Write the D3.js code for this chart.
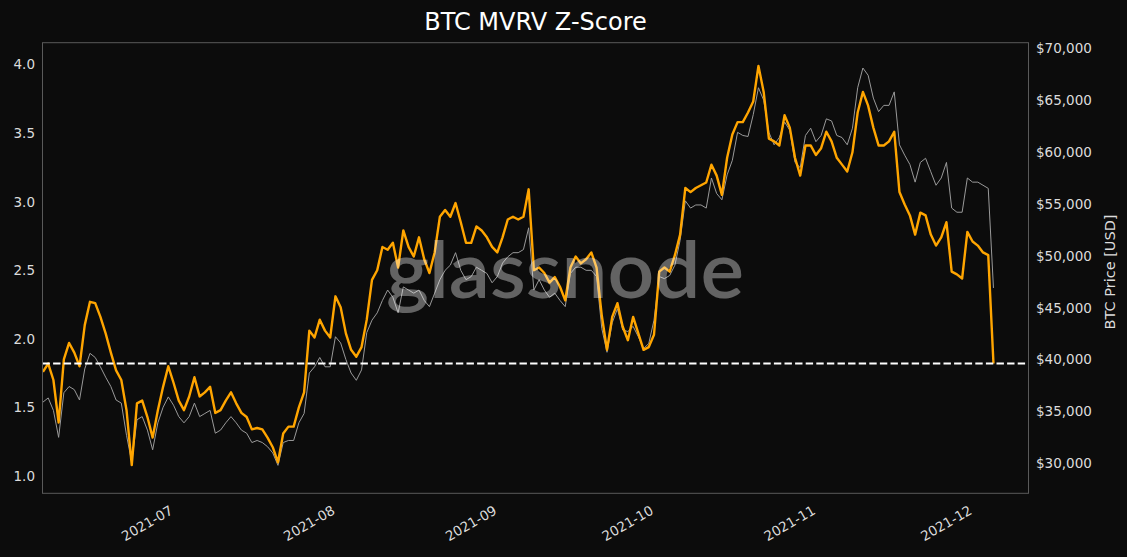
<!DOCTYPE html>
<html>
<head>
<meta charset="utf-8">
<script src="https://cdn.jsdelivr.net/npm/d3@7"></script>
<style>
  html, body { margin: 0; padding: 0; background: #0c0c0c; }
  svg { display: block; }
  text { font-family: "DejaVu Sans", sans-serif; }
</style>
</head>
<body>
<svg id="chart" width="1127" height="557"></svg>
<script>
// ---- data (daily samples, starting 2021-06-06 UTC) ----
const startDate = "2021-06-06T00:00:00Z";
const zscore = [
  1.76,1.82,1.70,1.39,1.85,1.97,1.90,1.80,2.10,2.27,
  2.26,2.16,2.04,1.90,1.77,1.70,1.48,1.08,1.53,1.55,
  1.43,1.28,1.48,1.65,1.80,1.68,1.55,1.48,1.58,1.72,
  1.58,1.61,1.65,1.46,1.48,1.55,1.61,1.53,1.46,1.43,
  1.34,1.35,1.34,1.28,1.21,1.10,1.31,1.36,1.36,1.50,
  1.61,2.06,2.01,2.14,2.06,2.01,2.31,2.23,2.04,1.92,
  1.87,1.94,2.14,2.43,2.50,2.67,2.65,2.70,2.52,2.79,
  2.67,2.60,2.74,2.58,2.48,2.63,2.89,2.94,2.89,2.99,
  2.85,2.70,2.70,2.82,2.79,2.74,2.67,2.63,2.74,2.87,
  2.89,2.87,2.89,3.09,2.50,2.52,2.48,2.41,2.45,2.38,
  2.28,2.52,2.60,2.55,2.58,2.63,2.52,2.17,1.92,2.16,
  2.26,2.09,1.99,2.16,2.04,1.92,1.94,2.03,2.49,2.52,
  2.49,2.61,2.76,3.10,3.07,3.10,3.12,3.14,3.27,3.19,
  3.05,3.32,3.49,3.58,3.58,3.65,3.73,3.99,3.80,3.46,
  3.44,3.41,3.63,3.54,3.32,3.19,3.41,3.41,3.34,3.39,
  3.51,3.44,3.32,3.27,3.22,3.36,3.65,3.80,3.70,3.54,
  3.41,3.41,3.44,3.51,3.07,2.98,2.90,2.76,2.92,2.90,
  2.76,2.68,2.74,2.85,2.49,2.47,2.44,2.78,2.71,2.68,
  2.63,2.61,1.82
];
const price = [
  35900,36300,35100,32500,36800,37400,37100,36100,39100,40600,
  40200,39300,38300,37400,36100,35800,32700,30100,34200,34500,
  33200,31300,33900,35400,36400,35600,34500,33900,34500,35800,
  34500,34800,35100,32900,33200,33900,34500,33900,33200,32900,
  32000,32200,32000,31600,31000,29800,32000,32200,32200,33900,
  34800,38700,39300,40200,39300,39300,42200,41600,40000,38700,
  38000,39000,42600,43800,44500,45700,46700,46000,44500,47000,
  46700,46400,46700,45700,45100,46400,47700,48600,49100,50300,
  48600,47700,48000,48900,48600,48300,47400,48000,49300,49900,
  50300,50300,50600,52700,46700,47700,46700,46000,46400,45700,
  45100,48300,48900,48900,48600,48600,48000,43000,40700,43550,
  44900,42850,42700,43200,42200,41050,41550,43800,48000,47800,
  48100,49100,51500,55300,54600,54900,54900,54600,57500,56000,
  55400,57800,59200,61900,61600,61500,63600,66200,65000,61900,
  60700,61400,62900,62100,59000,58500,61600,62300,61000,61600,
  63200,63000,61600,61400,60700,62300,66200,68100,67400,65200,
  63900,64500,64500,65800,60700,59700,58800,57100,59000,59400,
  58100,56800,57500,59000,54600,54200,54200,57500,57100,57100,
  56800,56500,46900
];
const zTicks = [1.0, 1.5, 2.0, 2.5, 3.0, 3.5, 4.0];
const priceTicks = [30000, 35000, 40000, 45000, 50000, 55000, 60000, 65000, 70000];
const monthTicks = ["2021-07-01", "2021-08-01", "2021-09-01", "2021-10-01", "2021-11-01", "2021-12-01"];
const titleText = "BTC MVRV Z-Score";
const rightLabel = "BTC Price [USD]";
const watermark = "glassnode";

// ---- layout ----
const L = 42.5, R = 1028.5, T = 42.7, B = 493.3;
const svg = d3.select("#chart");
svg.append("rect").attr("width", 1127).attr("height", 557).attr("fill", "#0c0c0c");

const t0 = new Date(startDate).getTime();
const dates = zscore.map((_, i) => new Date(t0 + i * 86400000));

const x = d3.scaleUtc()
  .domain([new Date("2021-06-05T21:50:00Z"), new Date("2021-12-11T17:00:00Z")])
  .range([L, R]);
const yZ = d3.scaleLinear().domain([0.874, 4.159]).range([B, T]);
const yP = d3.scaleLinear().domain([27108, 70540]).range([B, T]);

svg.append("defs").append("clipPath").attr("id", "clip")
  .append("rect").attr("x", L).attr("y", T).attr("width", R - L).attr("height", B - T);

const plot = svg.append("g").attr("clip-path", "url(#clip)");

// price line (behind)
plot.append("path")
  .datum(price.map((v, i) => [dates[i], v]))
  .attr("fill", "none")
  .attr("stroke", "#9a9a9a")
  .attr("stroke-width", 1)
  .attr("stroke-linejoin", "round")
  .attr("d", d3.line().x(d => x(d[0])).y(d => yP(d[1])));

// z-score line
plot.append("path")
  .datum(zscore.map((v, i) => [dates[i], v]))
  .attr("fill", "none")
  .attr("stroke", "#ffa500")
  .attr("stroke-width", 2.4)
  .attr("stroke-linejoin", "round")
  .attr("d", d3.line().x(d => x(d[0])).y(d => yZ(d[1])));

// dashed line at latest z value
const lastZ = zscore[zscore.length - 1];
plot.append("line")
  .attr("x1", L).attr("x2", R)
  .attr("y1", yZ(lastZ)).attr("y2", yZ(lastZ))
  .attr("stroke", "#ffffff")
  .attr("stroke-width", 2)
  .attr("stroke-dasharray", "7.4,3.2");

// watermark
svg.append("text")
  .attr("x", 565).attr("y", 298)
  .attr("text-anchor", "middle")
  .attr("textLength", 358)
  .attr("lengthAdjust", "spacingAndGlyphs")
  .style("font-family", "Lato, 'Open Sans', sans-serif")
  .style("font-size", "78px")
  .style("font-weight", "600")
  .attr("fill", "#ffffff")
  .attr("fill-opacity", 0.36)
  .text(watermark);

// frame
svg.append("rect")
  .attr("x", L).attr("y", T).attr("width", R - L).attr("height", B - T)
  .attr("fill", "none").attr("stroke", "#5a5a5a").attr("stroke-width", 1);

// axes
const tickColor = "#dcdcdc";
const fs = "13.5px";

const axL = svg.append("g").attr("transform", `translate(${L},0)`)
  .call(d3.axisLeft(yZ).tickValues(zTicks).tickSize(0).tickPadding(7.5).tickFormat(d3.format(".1f")));
const axR = svg.append("g").attr("transform", `translate(${R},0)`)
  .call(d3.axisRight(yP).tickValues(priceTicks).tickSize(0).tickPadding(7.5).tickFormat(d => "$" + d3.format(",")(d)));
const axB = svg.append("g").attr("transform", `translate(0,${B})`)
  .call(d3.axisBottom(x).tickValues(monthTicks.map(s => new Date(s + "T00:00:00Z"))).tickSize(0)
    .tickFormat(d3.utcFormat("%Y-%m")));

[axL, axR, axB].forEach(a => {
  a.select(".domain").remove();
  a.selectAll("text").attr("fill", tickColor).style("font-size", fs).style("font-family", "'DejaVu Sans', sans-serif");
});
axB.selectAll("text")
  .attr("x", -6).attr("y", 0).attr("dy", "0.76em")
  .attr("transform", "translate(0,8) rotate(-30)")
  .style("text-anchor", "end");

// title
svg.append("text")
  .attr("x", (L + R) / 2).attr("y", 30)
  .attr("text-anchor", "middle")
  .attr("fill", "#ffffff")
  .style("font-size", "24px")
  .text(titleText);

// right axis label
svg.append("text")
  .attr("transform", `translate(1115,272) rotate(-90)`)
  .attr("text-anchor", "middle")
  .attr("fill", tickColor)
  .style("font-size", "14.5px")
  .text(rightLabel);
</script>
</body>
</html>
